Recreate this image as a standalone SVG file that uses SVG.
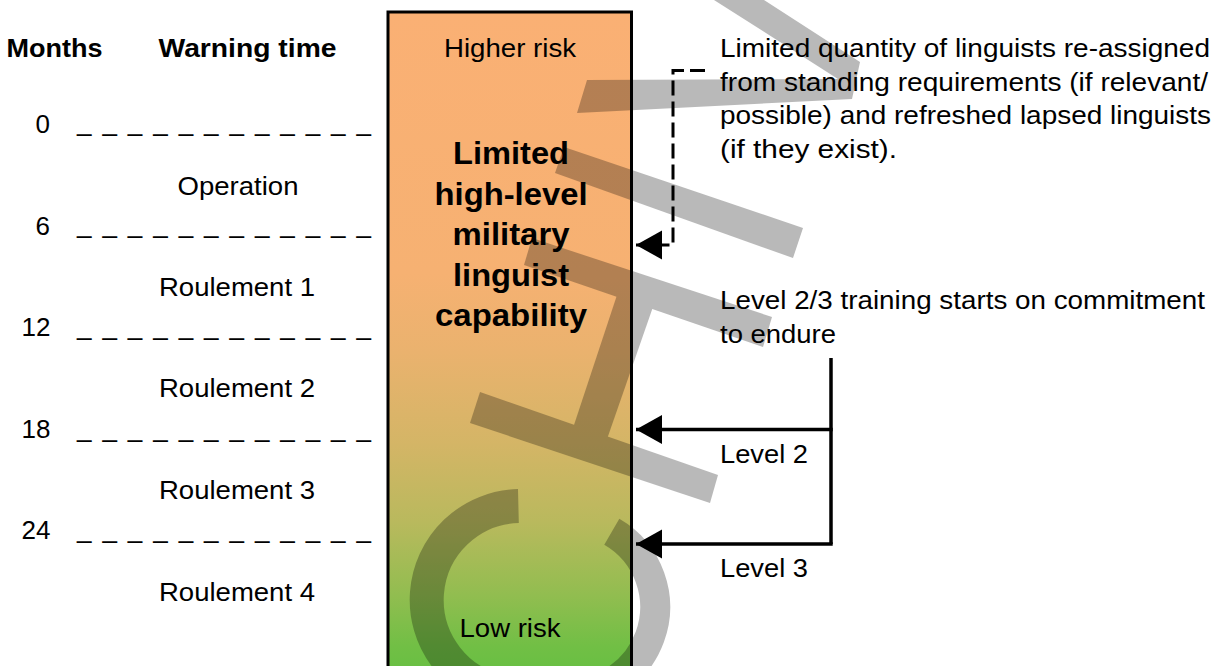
<svg xmlns="http://www.w3.org/2000/svg" width="1215" height="666" viewBox="0 0 1215 666">
  <defs>
    <linearGradient id="risk" gradientUnits="userSpaceOnUse" x1="0" y1="12" x2="0" y2="666">
      <stop offset="0" stop-color="#FAB074"/>
      <stop offset="0.40" stop-color="#F6B172"/>
      <stop offset="0.52" stop-color="#EAB26E"/>
      <stop offset="0.66" stop-color="#D4B566"/>
      <stop offset="0.78" stop-color="#B9B95D"/>
      <stop offset="0.89" stop-color="#92BD50"/>
      <stop offset="0.97" stop-color="#71BF45"/>
      <stop offset="1" stop-color="#6ABF43"/>
    </linearGradient>
    <marker id="arrow" markerUnits="userSpaceOnUse" markerWidth="27" markerHeight="30" refX="26" refY="14.5" orient="auto" viewBox="0 0 27 30">
      <path d="M0,0 L26,14.5 L0,29 Z" fill="#000"/>
    </marker>
    <style>
      text { font-family: "Liberation Sans", Arial, sans-serif; fill: #000; }
      .reg { font-size: 26px; }
      .bold { font-size: 26px; font-weight: bold; }
      .big { font-size: 31px; font-weight: bold; }
      .mid { text-anchor: middle; }
      .end { text-anchor: end; }
      .conn { fill: none; stroke: #000; stroke-width: 3.5; }
      .dash { stroke-width: 3; stroke-dasharray: 15 6; }
    </style>
  </defs>

  <rect width="1215" height="666" fill="#FFFFFF"/>

  <!-- headers -->
  <g id="headers">
    <text class="bold" x="6.5" y="57" textLength="96" lengthAdjust="spacingAndGlyphs">Months</text>
    <text class="bold" x="158.5" y="57" textLength="178" lengthAdjust="spacingAndGlyphs">Warning time</text>
  </g>

  <!-- timeline -->
  <g id="timeline">
    <text class="reg end" x="50" y="133">0</text>
    <text class="reg end" x="50" y="234.5">6</text>
    <text class="reg end" x="50.5" y="336">12</text>
    <text class="reg end" x="50.5" y="437.5">18</text>
    <text class="reg end" x="50.5" y="539">24</text>
    <text class="reg" x="77" y="131" textLength="294" lengthAdjust="spacing">_ _ _ _ _ _ _ _ _ _ _ _</text>
    <text class="reg" x="77" y="233" textLength="294" lengthAdjust="spacing">_ _ _ _ _ _ _ _ _ _ _ _</text>
    <text class="reg" x="77" y="335" textLength="294" lengthAdjust="spacing">_ _ _ _ _ _ _ _ _ _ _ _</text>
    <text class="reg" x="77" y="436.5" textLength="294" lengthAdjust="spacing">_ _ _ _ _ _ _ _ _ _ _ _</text>
    <text class="reg" x="77" y="538" textLength="294" lengthAdjust="spacing">_ _ _ _ _ _ _ _ _ _ _ _</text>
    <text class="reg mid" x="238" y="195" textLength="121" lengthAdjust="spacingAndGlyphs">Operation</text>
    <text class="reg mid" x="237" y="295.5" textLength="156" lengthAdjust="spacingAndGlyphs">Roulement 1</text>
    <text class="reg mid" x="237" y="397" textLength="156" lengthAdjust="spacingAndGlyphs">Roulement 2</text>
    <text class="reg mid" x="237" y="498.5" textLength="156" lengthAdjust="spacingAndGlyphs">Roulement 3</text>
    <text class="reg mid" x="237" y="601" textLength="156" lengthAdjust="spacingAndGlyphs">Roulement 4</text>
  </g>

  <!-- capability box -->
  <g id="capability">
    <rect x="388" y="12" width="243.5" height="680" fill="url(#risk)" stroke="#000" stroke-width="3"/>
  </g>

  <!-- connectors -->
  <g id="connectors">
    <path class="conn dash" d="M705,70.5 H673 V245 H636" marker-end="url(#arrow)"/>
    <path class="conn" d="M831,358 V544"/>
    <path class="conn" d="M832.7,429.5 H636" marker-end="url(#arrow)"/>
    <path class="conn" d="M832.7,544 H636" marker-end="url(#arrow)"/>
  </g>

  <!-- watermark strokes -->
  <g id="watermark" opacity="0.27" fill="#000" stroke="none">
    <path d="M714,0 L764,0 L860,62 L852,99 L577,113 L587,80 L838,79 Z"/>
    <path d="M564,147 L803,228 L793,258 L555,173 Z"/>
    <path d="M532,238 L772,317 L763,347 L524,265 Z"/>
    <path d="M618,292 L654,304 L606,442 L572,431 Z"/>
    <path d="M480,392 L718,475 L710,503 L470,423 Z"/>
    <path d="M518.4,506 A94,94 0 0 0 504.7,692.6" fill="none" stroke="#000" stroke-width="34"/>
    <path d="M611.8,531.8 A87,87 0 0 1 552.9,692.7" fill="none" stroke="#000" stroke-width="30"/>
  </g>

  <!-- box labels -->
  <g id="capability-labels">
    <text class="reg mid" x="510" y="57" textLength="132" lengthAdjust="spacingAndGlyphs">Higher risk</text>
    <text class="big mid" x="511" y="164" textLength="116" lengthAdjust="spacingAndGlyphs">Limited</text>
    <text class="big mid" x="511" y="204.5" textLength="153" lengthAdjust="spacingAndGlyphs">high-level</text>
    <text class="big mid" x="511" y="245" textLength="117" lengthAdjust="spacingAndGlyphs">military</text>
    <text class="big mid" x="511" y="285.5" textLength="116" lengthAdjust="spacingAndGlyphs">linguist</text>
    <text class="big mid" x="511" y="326" textLength="152" lengthAdjust="spacingAndGlyphs">capability</text>
    <text class="reg mid" x="510" y="636.5" textLength="101" lengthAdjust="spacingAndGlyphs">Low risk</text>
  </g>

  <g id="reassigned-note">
    <text class="reg" x="720" y="57" textLength="490" lengthAdjust="spacingAndGlyphs">Limited quantity of linguists re-assigned</text>
    <text class="reg" x="720" y="90.5" textLength="488" lengthAdjust="spacingAndGlyphs">from standing requirements (if relevant/</text>
    <text class="reg" x="720" y="124" textLength="491" lengthAdjust="spacingAndGlyphs">possible) and refreshed lapsed linguists</text>
    <text class="reg" x="720" y="157.5" textLength="177" lengthAdjust="spacingAndGlyphs">(if they exist).</text>
  </g>

  <g id="training-note">
    <text class="reg" x="720" y="309" textLength="485" lengthAdjust="spacingAndGlyphs">Level 2/3 training starts on commitment</text>
    <text class="reg" x="720" y="343" textLength="116" lengthAdjust="spacingAndGlyphs">to endure</text>
  </g>

  <g id="level2-label">
    <text class="reg" x="720" y="462.5" textLength="88" lengthAdjust="spacingAndGlyphs">Level 2</text>
  </g>
  <g id="level3-label">
    <text class="reg" x="720" y="577" textLength="88" lengthAdjust="spacingAndGlyphs">Level 3</text>
  </g>
</svg>
